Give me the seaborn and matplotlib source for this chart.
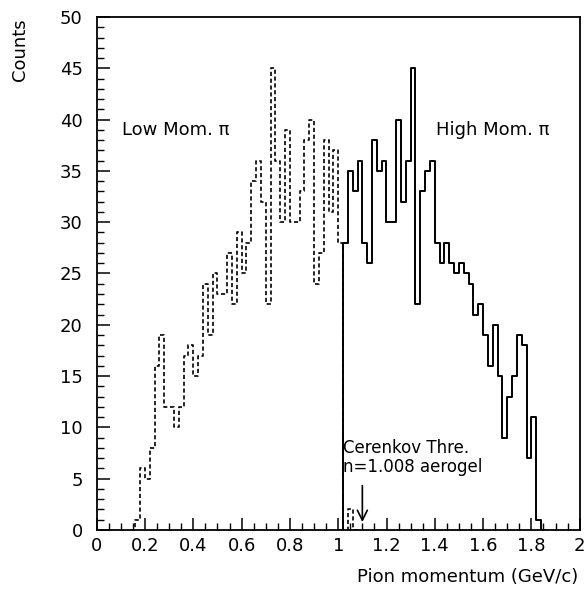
import numpy as np
import pandas as pd
import matplotlib
matplotlib.use("Agg")
import matplotlib.pyplot as plt
from matplotlib.ticker import MultipleLocator, FuncFormatter
import seaborn as sns

# --- data: pion momentum histograms, 0.02 GeV/c bins ---
BIN_WIDTH = 0.02

# low momentum pions (dashed), first bin starts at 0.14
LOW_START = 0.14
low_counts = [0, 1, 6, 5, 8, 16, 19, 12, 12, 10, 12, 17, 18, 15, 17, 24,
              19, 25, 23, 23, 27, 22, 29, 25, 28, 34, 36, 32, 22, 45, 36,
              30, 39, 30, 30, 33, 38, 40, 24, 27, 38, 31, 37, 28, 0, 2, 0]

# high momentum pions (solid), first bin starts at 1.00
HIGH_START = 1.00
high_counts = [0, 28, 35, 33, 36, 28, 26, 38, 35, 36, 30, 30, 40, 32, 36,
               45, 22, 33, 35, 36, 28, 26, 28, 26, 25, 26, 25, 24, 21, 22,
               19, 16, 20, 15, 9, 13, 15, 19, 18, 7, 11, 1, 0]

X_LABEL = "Pion momentum (GeV/c)"
Y_LABEL = "Counts"


def step_frame(start, counts):
    # bin edges + counts, last count repeated so steps-post closes the last bin
    edges = start + BIN_WIDTH * np.arange(len(counts) + 1)
    return pd.DataFrame({"p": edges, "n": list(counts) + [counts[-1]]})


low_df = step_frame(LOW_START, low_counts)
high_df = step_frame(HIGH_START, high_counts)

sns.set_style("ticks")
plt.rcParams["font.family"] = ["DejaVu Sans"]
plt.rcParams["text.color"] = "black"
plt.rcParams["axes.labelcolor"] = "black"

fig = plt.figure(figsize=(5.88, 5.91), dpi=100)
ax = fig.add_axes([96.7 / 588, 1 - 530 / 591, 483 / 588, 513 / 591])

sns.lineplot(data=low_df, x="p", y="n", estimator=None, sort=False,
             drawstyle="steps-post", color="black", linewidth=1.2,
             dashes=False, ax=ax)
ax.lines[-1].set_linestyle((0, (2.5, 1.6)))
sns.lineplot(data=high_df, x="p", y="n", estimator=None, sort=False,
             drawstyle="steps-post", color="black", linewidth=1.4, ax=ax)

ax.set_xlim(0, 2)
ax.set_ylim(0, 50)
ax.set_xlabel("")
ax.set_ylabel("")

for s in ax.spines.values():
    s.set_visible(True)
    s.set_linewidth(1.3)
    s.set_color("black")

ax.xaxis.set_major_locator(MultipleLocator(0.2))
ax.xaxis.set_minor_locator(MultipleLocator(0.05))
ax.yaxis.set_major_locator(MultipleLocator(5))
ax.yaxis.set_minor_locator(MultipleLocator(1))
ax.xaxis.set_major_formatter(FuncFormatter(lambda v, _: f"{v:g}"))
ax.tick_params(which="both", direction="in", top=False, right=False,
               colors="black", labelsize=13)
ax.tick_params(which="major", length=9, width=1.1)
ax.tick_params(which="minor", length=5, width=1.0)
ax.tick_params(axis="x", pad=5)
ax.tick_params(axis="y", pad=10)

# annotations
ax.text(0.105, 39, "Low Mom. \u03c0", fontsize=13, va="center", ha="left")
ax.text(1.405, 39, "High Mom. \u03c0", fontsize=13, va="center", ha="left")
ax.text(1.02, 8.0, "Cerenkov Thre.", fontsize=12, va="center", ha="left")
ax.text(1.02, 6.1, "n=1.008 aerogel", fontsize=12, va="center", ha="left")
ax.annotate("", xy=(1.10, 0.5), xytext=(1.10, 4.6),
            arrowprops=dict(arrowstyle="->", color="black", lw=1.2,
                            mutation_scale=18))

fig.text(20 / 588, 1 - 18 / 591, Y_LABEL, rotation=90, ha="center",
         va="top", fontsize=13)
fig.text(578 / 588, 1 - 577 / 591, X_LABEL, ha="right", va="center",
         fontsize=13)

fig.savefig("out.png", dpi=100, facecolor="white")
